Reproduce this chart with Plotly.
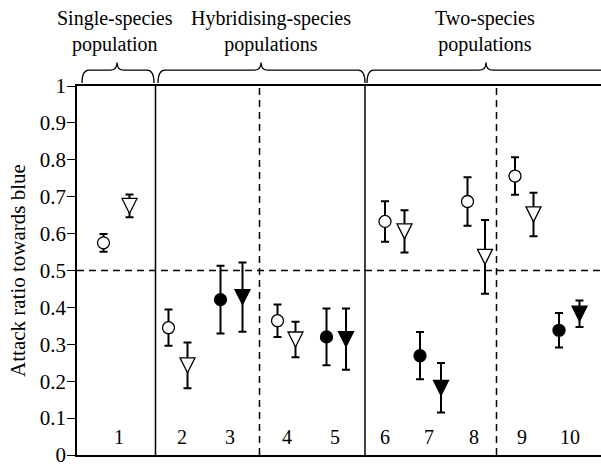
import plotly.graph_objects as go

# ---- data ----
populations = ["1", "2", "3", "4", "5", "6", "7", "8", "9", "10"]
circle_mean = [0.575, 0.345, 0.421, 0.364, 0.320, 0.633, 0.269, 0.687, 0.756, 0.338]
circle_err = [0.024, 0.049, 0.092, 0.044, 0.077, 0.055, 0.064, 0.066, 0.051, 0.047]
tri_mean = [0.675, 0.243, 0.428, 0.313, 0.314, 0.606, 0.182, 0.537, 0.652, 0.383]
tri_err = [0.031, 0.062, 0.094, 0.048, 0.083, 0.057, 0.067, 0.100, 0.059, 0.036]
filled = [False, False, True, False, True, False, True, False, False, True]
group_titles = ["Single-species<br>population",
                "Hybridising-species<br>populations",
                "Two-species<br>populations"]

# ---- layout positions (x axis units) ----
circle_x = [0.53, 1.83, 2.87, 4.01, 4.99, 6.16, 6.86, 7.81, 8.76, 9.64]
tri_x = [1.05, 2.21, 3.31, 4.37, 5.38, 6.55, 7.28, 8.16, 9.13, 10.05]
label_x = [0.83, 2.10, 3.05, 4.20, 5.16, 6.16, 7.03, 7.93, 8.90, 9.86]
solid_div = [1.57, 5.76]
dashed_div = [3.65, 8.39]
brace_spans = [(0.10, 1.54, 0.80), (1.62, 5.76, 3.68), (5.80, 11.0, 8.18)]
title_x = [0.76, 3.88, 8.16]

FONT = "Liberation Serif, Times New Roman, serif"
fill_colors = ["black" if f else "white" for f in filled]

fig = go.Figure()
fig.add_trace(go.Scatter(
    x=circle_x, y=circle_mean, mode="markers",
    error_y=dict(type="data", array=circle_err, color="black", thickness=2, width=4),
    marker=dict(symbol="circle", size=12, color=fill_colors,
                line=dict(color="black", width=1.3)),
    hoverinfo="skip"))
fig.add_trace(go.Scatter(
    x=tri_x, y=tri_mean, mode="markers",
    error_y=dict(type="data", array=tri_err, color="black", thickness=2, width=4),
    marker=dict(symbol="arrow-down", standoff=7.5, size=15, color=fill_colors,
                line=dict(color="black", width=1.3)),
    hoverinfo="skip"))

shapes = []
for xv in solid_div:
    shapes.append(dict(type="line", xref="x", yref="y", x0=xv, x1=xv, y0=0, y1=1,
                       line=dict(color="black", width=1.5), layer="below"))
for xv in dashed_div:
    shapes.append(dict(type="line", xref="x", yref="y", x0=xv, x1=xv, y0=0, y1=1,
                       line=dict(color="black", width=1.5, dash="7px,5px"), layer="below"))
shapes.append(dict(type="line", xref="paper", yref="y", x0=0, x1=1, y0=0.5, y1=0.5,
                   line=dict(color="black", width=1.5, dash="7px,5px"), layer="below"))

# curly braces above the plot area
yb, ym, yp = 1.008, 1.043, 1.064
for (x0, x1, xm) in brace_spans:
    r = 0.14
    path = (f"M{x0},{yb} Q{x0},{ym} {x0 + r},{ym} L{xm - r},{ym} "
            f"Q{xm},{ym} {xm},{yp} Q{xm},{ym} {xm + r},{ym} "
            f"L{x1 - r},{ym} Q{x1},{ym} {x1},{yb}")
    shapes.append(dict(type="path", xref="x", yref="paper", path=path,
                       line=dict(color="black", width=1.3)))

annotations = []
for lx, lab in zip(label_x, populations):
    annotations.append(dict(x=lx, y=0.05, xref="x", yref="y", text=lab, showarrow=False,
                            font=dict(family=FONT, size=20, color="black"),
                            xanchor="center", yanchor="middle"))
for tx, tt in zip(title_x, group_titles):
    annotations.append(dict(x=tx, y=1.075, xref="x", yref="paper", text=tt, showarrow=False,
                            font=dict(family=FONT, size=20, color="black"),
                            xanchor="center", yanchor="bottom"))

fig.update_layout(
    width=601, height=467,
    margin=dict(l=77, r=0, t=86, b=8),
    paper_bgcolor="white", plot_bgcolor="white",
    showlegend=False,
    font=dict(family=FONT, size=20, color="black"),
    shapes=shapes, annotations=annotations,
    xaxis=dict(range=[0, 10.48], showgrid=False, zeroline=False, showticklabels=False,
               ticks="", showline=True, mirror=True, linecolor="black", linewidth=1.5),
    yaxis=dict(range=[0, 1], dtick=0.1, showgrid=False, zeroline=False,
               ticks="outside", ticklen=8, tickwidth=1.3, tickcolor="black",
               showline=True, linecolor="black", linewidth=1.5,
               ticklabeloverflow="allow", ticklabelstandoff=-3,
               tickfont=dict(family=FONT, size=21, color="black"),
               title=dict(text="Attack ratio towards blue",
                          font=dict(family=FONT, size=21, color="black"), standoff=8)),
)

fig.write_html("out.html", config={"displayModeBar": False},
               post_script="document.body.style.margin='0px';")
